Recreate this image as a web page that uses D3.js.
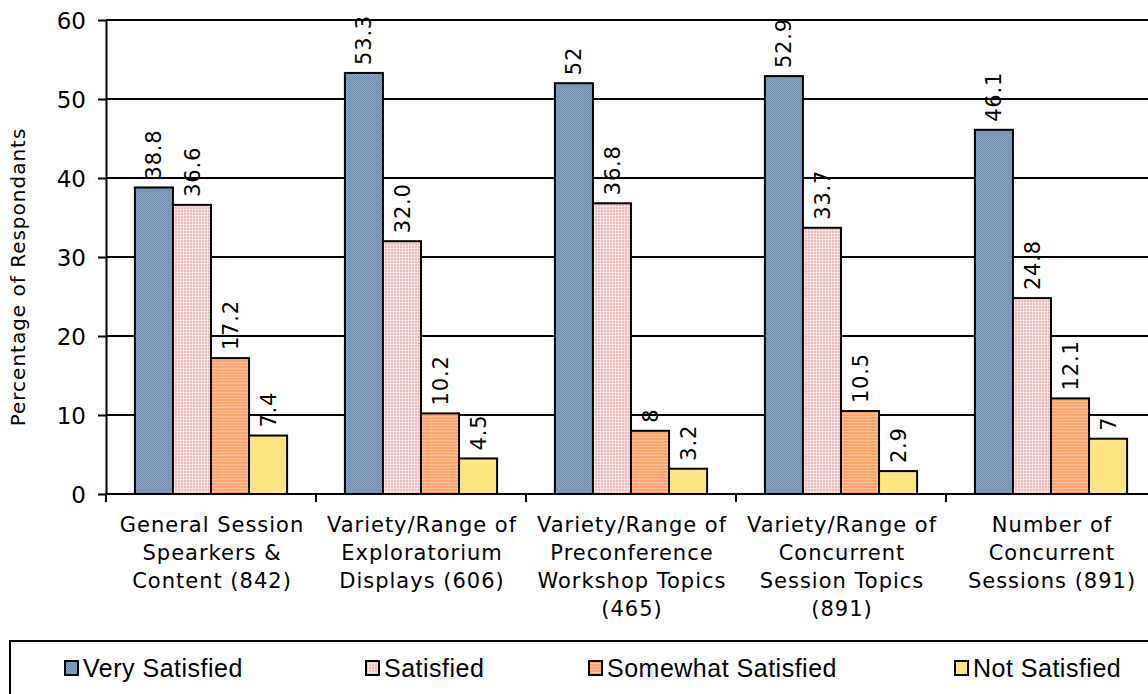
<!DOCTYPE html>
<html><head><meta charset="utf-8">
<script src="https://cdn.jsdelivr.net/npm/d3@7"></script>
<style>body{margin:0;background:#fff;overflow:hidden}</style>
</head><body><svg id="c" width="1148" height="694"></svg>
<script>
const categories = ["General Session Spearkers & Content (842)","Variety/Range of Exploratorium Displays (606)","Variety/Range of Preconference Workshop Topics (465)","Variety/Range of Concurrent Session Topics (891)","Number of Concurrent Sessions (891)"];
const categoryLines = [
  ["General Session","Spearkers &","Content (842)"],
  ["Variety/Range of","Exploratorium","Displays (606)"],
  ["Variety/Range of","Preconference","Workshop Topics","(465)"],
  ["Variety/Range of","Concurrent","Session Topics","(891)"],
  ["Number of","Concurrent","Sessions (891)"]
];
const series = ["Very Satisfied","Satisfied","Somewhat Satisfied","Not Satisfied"];
const verySatisfied = [38.8,53.3,52,52.9,46.1];
const satisfied = [36.6,32.0,36.8,33.7,24.8];
const somewhatSatisfied = [17.2,10.2,8,10.5,12.1];
const notSatisfied = [7.4,4.5,3.2,2.9,7];
const verySatisfiedLabels = ["38.8","53.3","52","52.9","46.1"];
const satisfiedLabels = ["36.6","32.0","36.8","33.7","24.8"];
const somewhatSatisfiedLabels = ["17.2","10.2","8","10.5","12.1"];
const notSatisfiedLabels = ["7.4","4.5","3.2","2.9","7"];
const yTicks = [0,10,20,30,40,50,60];
const yTickLabels = ["0","10","20","30","40","50","60"];
const yTitle = "Percentage of Respondants";

const values = [verySatisfied, satisfied, somewhatSatisfied, notSatisfied];
const labels = [verySatisfiedLabels, satisfiedLabels, somewhatSatisfiedLabels, notSatisfiedLabels];

const svg = d3.select("#c");
const W = 1148, H = 694;
const L = 106, R = 1156, T = 20, B = 494;

// patterns
const defs = svg.append("defs");
const pBlue = defs.append("pattern").attr("id","pBlue").attr("patternUnits","userSpaceOnUse").attr("width",2).attr("height",2);
pBlue.append("rect").attr("width",2).attr("height",2).attr("fill","#8AA1BF");
pBlue.append("rect").attr("width",1).attr("height",1).attr("fill","#6F89AA");
pBlue.append("rect").attr("x",1).attr("y",1).attr("width",1).attr("height",1).attr("fill","#7891B1");
const pPink = defs.append("pattern").attr("id","pPink").attr("patternUnits","userSpaceOnUse").attr("width",3).attr("height",3);
pPink.append("rect").attr("width",3).attr("height",3).attr("fill","#F8E2E2");
pPink.append("rect").attr("width",2).attr("height",2).attr("fill","#EBB9B9");
const pOrange = defs.append("pattern").attr("id","pOrange").attr("patternUnits","userSpaceOnUse").attr("width",3).attr("height",3);
pOrange.append("rect").attr("width",3).attr("height",3).attr("fill","#FFA36C");
pOrange.append("rect").attr("y",2).attr("width",3).attr("height",1).attr("fill","#FFC29C");
const fills = ["url(#pBlue)","url(#pPink)","url(#pOrange)","#FFE581"];

const x0 = d3.scaleBand().domain(categories).range([L, R]).paddingInner(0).paddingOuter(0);
const x1 = d3.scaleBand().domain(series).range([0, x0.bandwidth()]).paddingInner(0).paddingOuter(0.76);
const y = d3.scaleLinear().domain([0,60]).range([B, T]);

// gridlines
svg.append("g").selectAll("line").data(yTicks.filter(d => d > 0)).join("line")
  .attr("x1", L).attr("x2", W).attr("y1", d => y(d)).attr("y2", d => y(d))
  .attr("stroke","#000").attr("stroke-width",2);

// y axis
const yAxis = svg.append("g").attr("transform",`translate(${L},0)`)
  .call(d3.axisLeft(y).tickValues(yTicks).tickSize(8).tickSizeOuter(0).tickFormat((d,i) => yTickLabels[i]));
yAxis.select(".domain").attr("stroke","#000").attr("stroke-width",2);
yAxis.selectAll(".tick line").attr("stroke","#000").attr("stroke-width",2);
yAxis.selectAll(".tick text").attr("x",-20).attr("dy","0.36em")
  .attr("font-family","'DejaVu Sans', Verdana, sans-serif").attr("font-size",23).attr("fill","#000");

// bars
const groups = svg.append("g").selectAll("g").data(categories).join("g")
  .attr("transform", d => `translate(${x0(d)},0)`);
series.forEach((s, si) => {
  groups.append("rect")
    .attr("x", x1(s)).attr("width", x1.bandwidth())
    .attr("y", (d, ci) => y(values[si][ci]))
    .attr("height", (d, ci) => y(0) - y(values[si][ci]))
    .attr("fill", fills[si]).attr("stroke","#000").attr("stroke-width",2);
});

// value labels
series.forEach((s, si) => {
  groups.append("text")
    .attr("transform", (d, ci) => `translate(${x1(s) + x1.bandwidth()/2},${y(values[si][ci]) - 8}) rotate(-90)`)
    .attr("dy","0.36em")
    .attr("font-family","'DejaVu Sans', Verdana, sans-serif").attr("font-size",21)
    .attr("letter-spacing",0.8).attr("fill","#000")
    .text((d, ci) => labels[si][ci]);
});

// x axis
svg.append("line").attr("x1", L).attr("x2", W).attr("y1", B).attr("y2", B)
  .attr("stroke","#000").attr("stroke-width",2);
const edges = categories.map(c => x0(c)).concat([x0(categories[categories.length-1]) + x0.step()]);
svg.append("g").selectAll("line").data(edges).join("line")
  .attr("x1", d => d).attr("x2", d => d).attr("y1", B).attr("y2", B + 8)
  .attr("stroke","#000").attr("stroke-width",2);

// category labels
const catG = svg.append("g").selectAll("text").data(categories).join("text")
  .attr("font-family","'DejaVu Sans', Verdana, sans-serif").attr("font-size",21)
  .attr("letter-spacing",1).attr("text-anchor","middle").attr("fill","#000");
catG.each(function(c, ci) {
  const t = d3.select(this);
  categoryLines[ci].forEach((ln, li) => {
    t.append("tspan").attr("x", x0(c) + x0.bandwidth()/2 + 1).attr("y", 532 + li*28).text(ln);
  });
});

// y title
svg.append("text")
  .attr("transform", `translate(25,${(T+B)/2 + 20}) rotate(-90)`)
  .attr("text-anchor","middle")
  .attr("font-family","'DejaVu Sans', Verdana, sans-serif").attr("font-size",20)
  .attr("letter-spacing",1).attr("fill","#000")
  .text(yTitle);

// legend
svg.append("rect").attr("x",10).attr("y",641).attr("width",1200).attr("height",120)
  .attr("fill","none").attr("stroke","#000").attr("stroke-width",2);
const legX = [65, 366, 589, 955];
const leg = svg.append("g").selectAll("g").data(series).join("g")
  .attr("transform", (d,i) => `translate(${legX[i]},661)`);
leg.append("rect").attr("width",13).attr("height",14)
  .attr("fill", (d,i) => fills[i]).attr("stroke","#000").attr("stroke-width",2);
leg.append("text").attr("x",18).attr("y",7).attr("dy","0.36em")
  .attr("font-family","'Liberation Sans', Arial, sans-serif").attr("font-size",25)
  .attr("letter-spacing",0.5).attr("fill","#000")
  .text(d => d);
</script></body></html>
